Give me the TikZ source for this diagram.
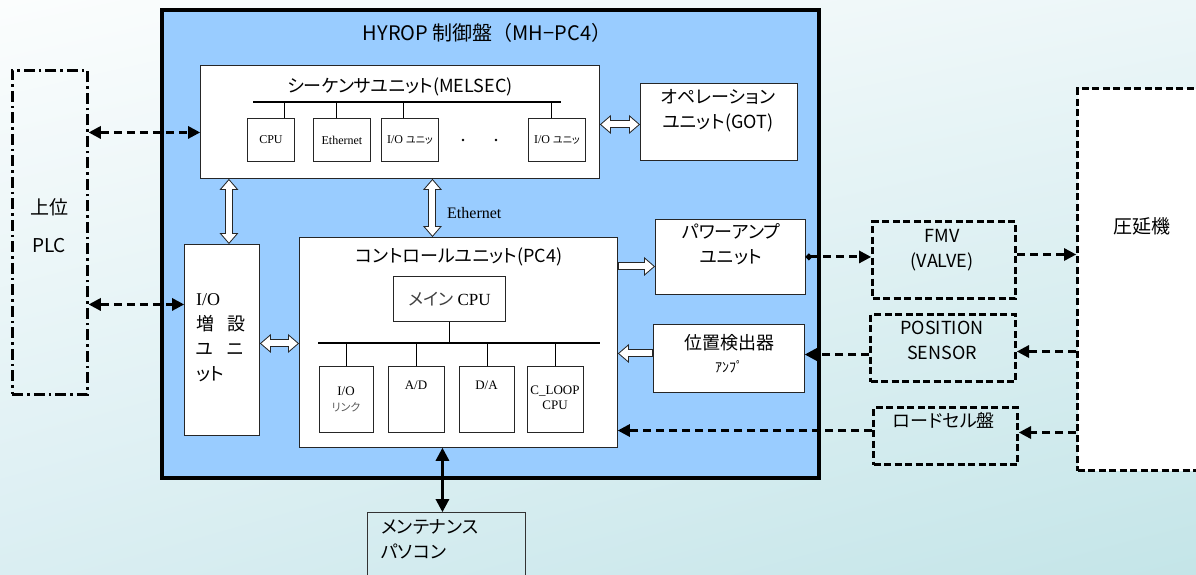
\documentclass[tikz,border=0pt]{standalone}
\usepackage{fontspec}
\setmainfont{Noto Sans CJK JP}[RawFeature=+palt]
\newfontfamily\jpfull{Noto Sans CJK JP}
\newfontfamily\mincho{Liberation Serif}
\usetikzlibrary{arrows.meta, positioning, shadings}

\definecolor{panelblue}{RGB}{153,204,255}
\definecolor{bgTL}{RGB}{251,253,253}
\definecolor{bgTR}{RGB}{236,246,248}
\definecolor{bgBL}{RGB}{218,238,242}
\definecolor{bgBR}{RGB}{196,229,232}

\tikzset{
  sz/.style 2 args={minimum width=#1pt, minimum height=#2pt},
  unit/.style={draw=black!85, fill=white, line width=0.9pt, anchor=north west, inner sep=0pt},
  ext/.style={draw, line width=3pt, dash pattern=on 7pt off 3.5pt, anchor=north west, inner sep=0pt},
  lbl/.style={font=\fontsize{18}{25}\selectfont, align=center, inner sep=0pt},
  sm/.style={font=\mincho\fontsize{12}{15}\selectfont, align=center, inner sep=0pt},
  bus/.style={line width=2.6pt},
  dlink/.style={line width=3pt, dash pattern=on 8pt off 5pt},
  dtip/.tip={Triangle[length=12pt, width=13pt, line width=0pt]},
  stip/.tip={Triangle[length=13pt, width=14pt, line width=0pt]},
  fatout/.style={line width=8pt, draw=black!85},
  fatin/.style={line width=6pt, draw=white},
  hout/.tip={Triangle[length=11pt, width=19pt, line width=0pt]},
  hin/.tip={Triangle[length=8.5pt, width=14.6pt, line width=0pt]},
}

% hollow block arrows
\newcommand{\fatboth}[2]{%
  \draw[fatout, hout-hout] #1 -- #2;
  \draw[fatin, hin-hin, shorten >=1.5pt, shorten <=1.5pt] #1 -- #2;}
\newcommand{\fatto}[2]{%
  \draw[fatout, -hout] #1 -- #2;
  \draw[fatin, -hin, shorten >=1.5pt, shorten <=1pt] #1 -- #2;}

\begin{document}
\begin{tikzpicture}[x=1pt, y=-1pt]
  \clip (0,0) rectangle (1196,574);
  \shade[upper left=bgTL, upper right=bgTR, lower left=bgBL, lower right=bgBR] (0,0) rectangle (1196,574);

  % control panel
  \node[draw, line width=4pt, fill=panelblue, sz={657}{468}, anchor=north west, inner sep=0pt] (panel) at (160,8) {};
  \node[lbl, font=\jpfull\fontsize{20}{24}\selectfont] (title) at (487,33) {HYROP 制御盤（MH−PC4）};

  % units
  \node[unit, sz={399}{113}] (seq) at (200,65) {};
  \node[unit, sz={157}{77}] (op) at (640,83) {};
  \node[unit, sz={75}{191}] (ioext) at (184,244) {};
  \node[unit, sz={318}{210}] (ctrl) at (299,237) {};
  \node[unit, sz={150}{75}] (pamp) at (655,219) {};
  \node[unit, sz={151}{68}] (posamp) at (653,324) {};

  \node[lbl] (seqT) at (400,87) {シーケンサユニット(MELSEC)};
  \node[lbl] (opT) at (718,111) {オペレーション\\ユニット(GOT)};
  \node[lbl, align=left, anchor=north west] (ioextT) at (196,293)
    {{\mincho I/O}\\増\hspace{13pt}設\\ユ\hspace{13pt}ニ\\ット};
  \node[lbl] (ctrlT) at (459,257) {コントロールユニット(PC4)};
  \node[lbl] (pampT) at (731,244.5) {パワーアンプ\\ユニット};
  \node[lbl, font=\fontsize{18}{23}\selectfont] (posampT) at (729,353.5) {位置検出器\\{\fontsize{14}{16}\selectfont ｱﾝﾌﾟ}};

  % sequencer modules
  \node[unit, sz={47}{43}, sm] (cpu) at (247,118) {CPU};
  \node[unit, sz={57}{43}, sm] (eth) at (313,118) {Ethernet};
  \node[unit, sz={57}{43}, sm] (io1) at (381,118) {I/O {\rmfamily\fontsize{10}{12}\selectfont ユニッ}};
  \node[unit, sz={57}{43}, sm] (io2) at (528,118) {I/O {\rmfamily\fontsize{10}{12}\selectfont ユニッ}};
  \fill (463,140) circle (1.4) (496,140) circle (1.4);
  \coordinate (seqbusL) at (253,102);
  \coordinate (seqbusR) at (561,102);
  \draw[bus] (seqbusL) -- (seqbusR);
  \foreach \n/\dx in {cpu/13.5, eth/-5.5, io1/-6.5, io2/-5.5}
    \draw ([xshift=\dx pt]\n.north) -- ([xshift=\dx pt]\n.north |- seqbusL);

  % control unit modules
  \node[unit, sz={112}{45}, sm, font=\mincho\fontsize{17}{19}\selectfont] (maincpu) at (393,276)
    {{\rmfamily\color{black!75}メイン} CPU};
  \node[unit, sz={54}{66}] (iol) at (319,366) {};
  \node[unit, sz={56}{66}] (ad) at (388,366) {};
  \node[unit, sz={55}{66}] (da) at (459,366) {};
  \node[unit, sz={56}{66}] (cloop) at (527,366) {};
  \node[sm, font=\mincho\fontsize{13}{16}\selectfont] (iolT) at (346,399)
    {I/O\\{\rmfamily\fontsize{11}{13}\selectfont\color{black!65}リンク}};
  \node[sm, font=\mincho\fontsize{13}{15}\selectfont] (adT) at (416,385) {A/D};
  \node[sm, font=\mincho\fontsize{13}{15}\selectfont] (daT) at (486.5,385) {D/A};
  \node[sm, font=\mincho\fontsize{13}{15}\selectfont] (cloopT) at (555,397.5) {C\_LOOP\\CPU};
  \coordinate (ctrlbusL) at (318,343);
  \coordinate (ctrlbusR) at (600,343);
  \draw[bus] (ctrlbusL) -- (ctrlbusR);
  \draw (maincpu.south) -- (maincpu.south |- ctrlbusL);
  \foreach \n in {iol, ad, da, cloop}
    \draw (\n.north) -- (\n.north |- ctrlbusL);

  % outside
  \node[draw, line width=2.8pt, dash pattern=on 11pt off 4pt on 2.5pt off 4pt, sz={75}{324}, anchor=north west, inner sep=0pt] (plc) at (11,69) {};
  \node[lbl, font=\fontsize{19}{38}\selectfont] (plcT) at (49,226) {上位\\PLC};
  \node[ext, sz={143}{77}] (fmv) at (871,220) {};
  \node[ext, sz={145}{67}] (possens) at (869,313) {};
  \node[ext, sz={144}{57}] (loadcell) at (872,406) {};
  \node[ext, fill=white, sz={140}{382}] (roll) at (1076,87) {};
  \node[lbl] (fmvT) at (942,250) {FMV\\(VALVE)};
  \node[lbl] (possT) at (942,340.5) {POSITION\\SENSOR};
  \node[lbl] (loadT) at (944,420) {ロードセル盤};
  \node[lbl, font=\fontsize{19}{23}\selectfont] (rollT) at (1142,226) {圧延機};
  \node[draw=black!80, line width=0.9pt, sz={158}{80}, anchor=north west, inner sep=0pt] (maint) at (367,512) {};
  \node[lbl, align=left, anchor=west] (maintT) at (381,539.5) {メンテナンス\\パソコン};
  \node[anchor=west, inner sep=0pt, font=\mincho\fontsize{16}{18}\selectfont] (ethT) at (447,213) {Ethernet};

  % block arrows
  \fatboth{([yshift=-2.5pt]seq.east |- op.west)}{([yshift=-2.5pt]op.west)}
  \fatboth{([xshift=7pt]ioext.north |- seq.south)}{([xshift=7pt]ioext.north)}
  \fatboth{([xshift=-26pt]ctrl.north |- seq.south)}{([xshift=-26pt]ctrl.north)}
  \fatboth{([yshift=-3.5pt]ioext.east)}{([yshift=-3.5pt]ioext.east -| ctrl.west)}
  \fatto{([yshift=-9.5pt]pamp.west -| ctrl.east)}{([yshift=-9.5pt]pamp.west)}
  \fatto{([yshift=5pt]posamp.west)}{([yshift=5pt]posamp.west -| ctrl.east)}

  % signal lines
  \draw[dlink, dtip-dtip] ([yshift=-10.5pt]seq.west -| plc.east) -- ([yshift=-10.5pt]seq.west);
  \draw[dlink, dtip-dtip] ([yshift=35.5pt]ioext.west -| plc.east) -- ([yshift=35.5pt]ioext.west);
  \draw[dlink, {Circle[length=6pt]}-dtip] (pamp.east) -- (pamp.east -| fmv.west);
  \draw[dlink, -dtip] ([yshift=5.5pt]fmv.east) -- ([yshift=5.5pt]fmv.east -| roll.west);
  \draw[dlink, -dtip] ([yshift=-3.5pt]possens.east -| roll.west) -- ([yshift=-3.5pt]possens.east);
  \draw[dlink, -dtip] ([yshift=-6.5pt]possens.west) -- ([yshift=-6.5pt]possens.west -| posamp.east);
  \draw[dlink, -dtip] ([yshift=3.5pt]loadcell.east -| roll.west) -- ([yshift=3.5pt]loadcell.east);
  \draw[dlink, -dtip] ([yshift=5.5pt]loadcell.west) -- ([yshift=5.5pt]loadcell.west -| ctrl.east);
  \draw[line width=2.6pt, stip-stip] ([xshift=-16pt]ctrl.south) -- ([xshift=-16pt]ctrl.south |- maint.north);
\end{tikzpicture}
\end{document}
